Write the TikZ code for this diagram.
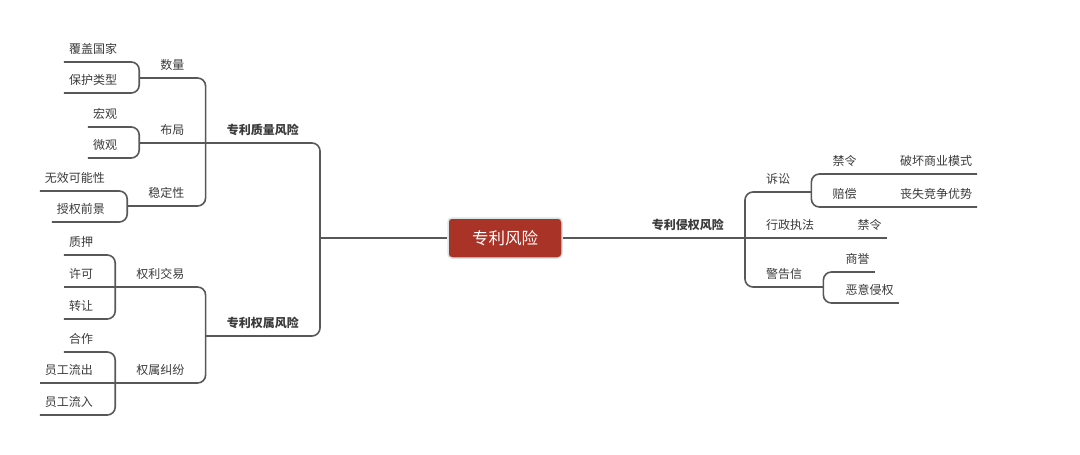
\documentclass[tikz,border=0pt]{standalone}
\usepackage{fontspec}
\setmainfont{Noto Sans CJK SC}
\usetikzlibrary{calc}
\definecolor{linegray}{RGB}{88,88,88}
\definecolor{textgray}{RGB}{58,58,58}
\definecolor{rootred}{RGB}{169,51,38}
\definecolor{rootedge}{RGB}{218,230,228}
\tikzset{conn/.style={draw=linegray, line width=1.6pt}}
\tikzset{bracket/.style={conn, rounded corners=8pt}}
\tikzset{topic/.style={inner ysep=0pt, text height=12pt, text depth=8.4pt, text=textgray, font=\fontsize{12}{14}\selectfont}}
\tikzset{mid/.style={topic, inner xsep=21pt}}
\tikzset{main/.style={mid, font=\fontsize{12}{14}\selectfont\bfseries}}
\tikzset{lleaf/.style={topic, inner xsep=0pt, execute at begin node={\hspace*{5pt}}, execute at end node={\hspace*{22pt}}}}
\tikzset{rleaf/.style={topic, inner xsep=0pt, execute at begin node={\hspace*{22pt}}, execute at end node={\hspace*{5pt}}}}
\tikzset{root/.style={fill=rootred, draw=rootedge, line width=1.5pt, rounded corners=4pt, minimum width=114pt, minimum height=40pt, text=white, font=\fontsize{16.5}{18}\selectfont}}

\begin{document}
\begin{tikzpicture}[x=1pt, y=-1pt]
    \useasboundingbox (0,0) rectangle (1080,455);

    \node[root] (root) at (505,238) {专利风险};

    % 专利质量风险
    \node[main, anchor=south east] (zlfx) at (320,143) {专利质量风险};
    \node[mid, anchor=south east] (sl) at ($(zlfx.south west)+(0,-65)$) {数量};
    \node[mid, anchor=south east] (bj) at (zlfx.south west) {布局};
    \node[mid, anchor=south east] (wdx) at ($(zlfx.south west)+(0,63)$) {稳定性};

    \node[lleaf, anchor=south east] (fggj) at ($(sl.south west)+(0,-16)$) {覆盖国家};
    \node[lleaf, anchor=south east] (bhlx) at ($(sl.south west)+(0,15)$) {保护类型};
    \node[lleaf, anchor=south east] (hg) at ($(bj.south west)+(0,-16)$) {宏观};
    \node[lleaf, anchor=south east] (wg) at ($(bj.south west)+(0,15)$) {微观};
    \node[lleaf, anchor=south east] (wxkn) at ($(wdx.south west)+(0,-15)$) {无效可能性};
    \node[lleaf, anchor=south east] (sqqj) at ($(wdx.south west)+(0,16)$) {授权前景};

    % 专利权属风险
    \node[main, anchor=south east] (qsfx) at (320,336) {专利权属风险};
    \node[mid, anchor=south east] (qljy) at ($(qsfx.south west)+(0,-49)$) {权利交易};
    \node[mid, anchor=south east] (qsjf) at ($(qsfx.south west)+(0,47)$) {权属纠纷};

    \node[lleaf, anchor=south east] (zy) at ($(qljy.south west)+(0,-32)$) {质押};
    \node[lleaf, anchor=south east] (xk) at (qljy.south west) {许可};
    \node[lleaf, anchor=south east] (zr) at ($(qljy.south west)+(0,32)$) {转让};
    \node[lleaf, anchor=south east] (hz) at ($(qsjf.south west)+(0,-31)$) {合作};
    \node[lleaf, anchor=south east] (yglc) at (qsjf.south west) {员工流出};
    \node[lleaf, anchor=south east] (yglr) at ($(qsjf.south west)+(0,32)$) {员工流入};

    % 专利侵权风险
    \node[main, anchor=south east] (qqfx) at (745,238) {专利侵权风险};
    \node[mid, anchor=south west] (ss) at ($(qqfx.south east)+(0,-46)$) {诉讼};
    \node[mid, anchor=south west] (xzzf) at (qqfx.south east) {行政执法};
    \node[mid, anchor=south west] (jgx) at ($(qqfx.south east)+(0,49)$) {警告信};

    \node[mid, anchor=south west] (jl) at ($(ss.south east)+(0,-18)$) {禁令};
    \node[mid, anchor=south west] (pc) at ($(ss.south east)+(0,15)$) {赔偿};
    \node[rleaf, anchor=south west] (phsy) at (jl.south east) {破坏商业模式};
    \node[rleaf, anchor=south west] (ssjz) at (pc.south east) {丧失竞争优势};
    \node[rleaf, anchor=south west] (jlxz) at (xzzf.south east) {禁令};
    \node[rleaf, anchor=south west] (sy) at ($(jgx.south east)+(0,-15)$) {商誉};
    \node[rleaf, anchor=south west] (eyqq) at ($(jgx.south east)+(0,16)$) {恶意侵权};

    % connectors
    \draw[conn] (root.west) -- (root.west -| zlfx.south east);
    \draw[conn] (root.east) -- (qqfx.south east);

    \draw[bracket] (zlfx.south west) -- (zlfx.south east) -- (qsfx.south east) -- (qsfx.south west);
    \draw[bracket] (sl.south west) -- (sl.south east) -- (wdx.south east) -- (wdx.south west);
    \draw[conn] (bj.south west) -- (bj.south east);
    \draw[bracket] (fggj.south west) -- (fggj.south east) -- (bhlx.south east) -- (bhlx.south west);
    \draw[bracket] (hg.south west) -- (hg.south east) -- (wg.south east) -- (wg.south west);
    \draw[bracket] (wxkn.south west) -- (wxkn.south east) -- (sqqj.south east) -- (sqqj.south west);
    \draw[bracket] (qljy.south west) -- (qljy.south east) -- (qsjf.south east) -- (qsjf.south west);
    \draw[bracket] (zy.south west) -- (zy.south east) -- (zr.south east) -- (zr.south west);
    \draw[conn] (xk.south west) -- (xk.south east);
    \draw[bracket] (hz.south west) -- (hz.south east) -- (yglr.south east) -- (yglr.south west);
    \draw[conn] (yglc.south west) -- (yglc.south east);

    \draw[bracket] (ss.south east) -- (ss.south west) -- (jgx.south west) -- (jgx.south east);
    \draw[conn] (xzzf.south west) -- (jlxz.south east);
    \draw[bracket] (phsy.south east) -- (jl.south west) -- (pc.south west) -- (ssjz.south east);
    \draw[bracket] (sy.south east) -- (sy.south west) -- (eyqq.south west) -- (eyqq.south east);
\end{tikzpicture}
\end{document}
